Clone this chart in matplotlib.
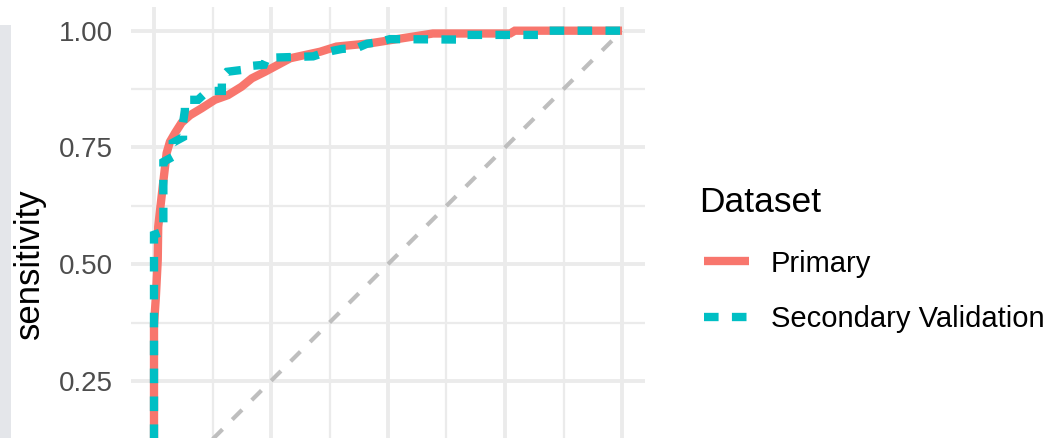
import matplotlib
matplotlib.use("Agg")
import matplotlib.pyplot as plt
from matplotlib.lines import Line2D
from matplotlib.patches import Rectangle
from matplotlib.ticker import MultipleLocator, NullFormatter

plt.rcParams['font.family'] = ['Liberation Sans', 'DejaVu Sans']

# ---- data ----
primary_fpr = [0.000, 0.000, 0.004, 0.008, 0.009, 0.013, 0.017, 0.027, 0.034, 0.045,
               0.059, 0.077, 0.102, 0.130, 0.158, 0.187, 0.209, 0.237, 0.265, 0.291,
               0.355, 0.390, 0.462, 0.532, 0.596, 0.761, 0.771, 1.000]
primary_sens = [0.000, 0.370, 0.430, 0.509, 0.580, 0.616, 0.652, 0.738, 0.762, 0.781,
                0.803, 0.819, 0.834, 0.852, 0.862, 0.880, 0.898, 0.912, 0.927, 0.941,
                0.955, 0.966, 0.973, 0.984, 0.994, 0.994, 1.000, 1.000]

secondary_fpr = [0.000, 0.000, 0.020, 0.020, 0.040, 0.040, 0.062, 0.062, 0.066, 0.066,
                 0.094, 0.115, 0.145, 0.145, 0.156, 0.188, 0.201, 0.235, 0.241, 0.340,
                 0.355, 0.382, 0.402, 0.434, 0.455, 0.483, 0.504, 0.654, 0.665, 0.825,
                 0.835, 1.000]
secondary_sens = [0.000, 0.563, 0.570, 0.719, 0.730, 0.760, 0.772, 0.802, 0.830, 0.852,
                  0.852, 0.871, 0.871, 0.901, 0.912, 0.916, 0.924, 0.927, 0.942, 0.945,
                  0.950, 0.957, 0.961, 0.963, 0.972, 0.976, 0.982, 0.981, 0.991, 0.991,
                  1.000, 1.000]

series_names = ["Primary", "Secondary Validation"]
series_colors = ["#F8766D", "#00BFC4"]
y_tick_values = [0.25, 0.50, 0.75, 1.00]
y_tick_labels = ["0.25", "0.50", "0.75", "1.00"]
legend_title = "Dataset"
y_title = "sensitivity"

W, H = 1053, 438
fig = plt.figure(figsize=(W / 100, H / 100), dpi=100)
fig.patch.set_facecolor("white")

# panel placed so that the visible region matches the (cropped) reference
ax_left, ax_right = 130.6, 645.4
ax_top, ax_bot = 7.35, 521.0
ax = fig.add_axes([ax_left / W, (H - ax_bot) / H, (ax_right - ax_left) / W, (ax_bot - ax_top) / H])
ax.set_xlim(-0.05, 1.05)
ax.set_ylim(-0.05, 1.05)
ax.set_facecolor("white")
for s in ax.spines.values():
    s.set_visible(False)

ax.xaxis.set_major_locator(MultipleLocator(0.25))
ax.xaxis.set_minor_locator(MultipleLocator(0.125))
ax.set_yticks(y_tick_values)
ax.set_yticklabels(y_tick_labels)
ax.yaxis.set_minor_locator(MultipleLocator(0.125))
ax.xaxis.set_major_formatter(NullFormatter())
ax.tick_params(axis="both", which="both", length=0)
ax.tick_params(axis="y", labelsize=20, labelcolor="#4D4D4D", pad=12.5)

ax.grid(which="major", color="#EBEBEB", linewidth=2.8)
ax.grid(which="minor", color="#EBEBEB", linewidth=1.6)
ax.set_axisbelow(True)

# diagonal reference
ax.plot([0, 1], [0, 1], color="#BEBEBE", linewidth=3.0, dashes=(3.3, 3.3),
        solid_capstyle="butt", dash_capstyle="butt", zorder=2)

lw = 6.0
ax.plot(primary_fpr, primary_sens, color=series_colors[0], linewidth=lw,
        solid_joinstyle="miter", solid_capstyle="butt", zorder=3)
ax.plot(secondary_fpr, secondary_sens, color=series_colors[1], linewidth=lw,
        dashes=(1.75, 1.6), dash_capstyle="butt", dash_joinstyle="miter", zorder=4)

# y title
fig.text(29.5 / W, (H - 264) / H, y_title, rotation=90, ha="center", va="center",
         fontsize=25, color="black")

# legend (drawn manually)
fig.text(699 / W, (H - 211.7) / H, legend_title, ha="left", va="baseline",
         fontsize=25.5, color="black")
key_x0, key_x1 = 704 / W, 749 / W
fig.add_artist(Line2D([key_x0, key_x1], [(H - 261) / H] * 2, transform=fig.transFigure,
                      color=series_colors[0], linewidth=lw, solid_capstyle="butt"))
fig.add_artist(Line2D([key_x0, key_x1], [(H - 316.5) / H] * 2, transform=fig.transFigure,
                      color=series_colors[1], linewidth=lw, dashes=(1.75, 1.6),
                      dash_capstyle="butt"))
fig.text(771 / W, (H - 271.7) / H, series_names[0], ha="left", va="baseline",
         fontsize=21, color="black")
fig.text(771 / W, (H - 326.7) / H, series_names[1], ha="left", va="baseline",
         fontsize=21, color="black")

# light gray strip at the very left edge of the reference
fig.add_artist(Rectangle((0, 0), 11 / W, (H - 25) / H, transform=fig.transFigure,
                         facecolor="#E4E6EA", edgecolor="none"))

fig.savefig("out.png", dpi=100)
